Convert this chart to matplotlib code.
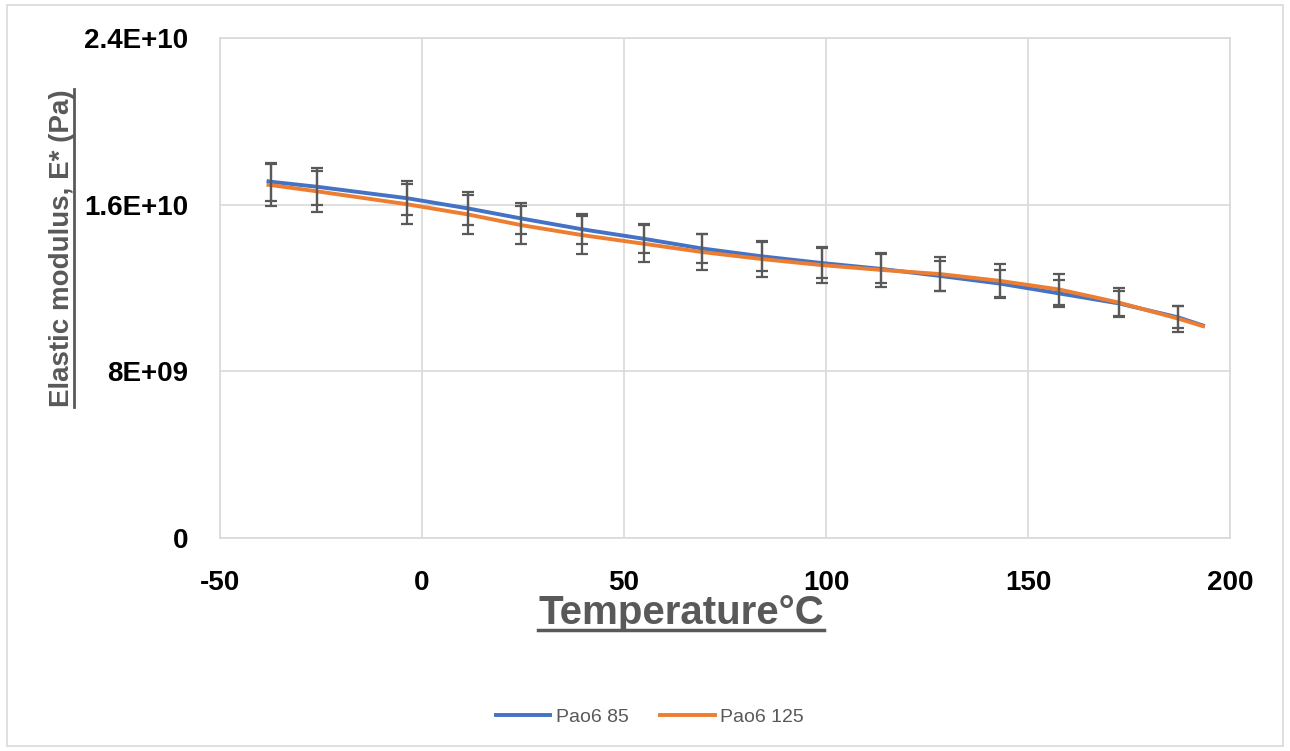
import numpy as np
import matplotlib.pyplot as plt
from matplotlib.lines import Line2D
from matplotlib.patches import Rectangle

# data
temp_bars = [-37.4, -26.0, -3.7, 11.4, 24.5, 39.6, 55.0, 69.2, 84.1, 98.9,
             113.5, 128.2, 143.1, 157.7, 172.5, 187.2]
pao85 = [17.10, 16.86, 16.31, 15.82, 15.34, 14.82, 14.36, 13.90, 13.52, 13.20,
         12.92, 12.58, 12.21, 11.74, 11.26, 10.59]
pao85_err = [0.92, 0.88, 0.82, 0.78, 0.74, 0.71, 0.70, 0.69, 0.69, 0.70,
             0.70, 0.70, 0.66, 0.64, 0.61, 0.53]
pao125 = [16.94, 16.64, 16.02, 15.53, 15.02, 14.54, 14.12, 13.73, 13.39, 13.10,
          12.87, 12.67, 12.34, 11.93, 11.30, 10.53]
pao125_err = [1.02, 0.99, 0.97, 0.95, 0.93, 0.90, 0.89, 0.86, 0.86, 0.85,
              0.82, 0.80, 0.81, 0.74, 0.70, 0.62]
# curve ends (no error bar there)
t_start, t_end = -38.0, 193.3
pao85_ends = [17.12, 10.20]
pao125_ends = [16.95, 10.17]

yticks = [0, 8e9, 1.6e10, 2.4e10]
ytick_labels = ['0', '8E+09', '1.6E+10', '2.4E+10']
xticks = [-50, 0, 50, 100, 150, 200]

blue = '#4472C4'
orange = '#ED7D31'
grey = '#595959'
plt.rcParams['font.family'] = ['Liberation Sans', 'DejaVu Sans']

scale = 1e9
x_line = np.array([t_start] + temp_bars + [t_end])
y85 = np.array([pao85_ends[0]] + pao85 + [pao85_ends[1]]) * scale
y125 = np.array([pao125_ends[0]] + pao125 + [pao125_ends[1]]) * scale

fig = plt.figure(figsize=(12.9, 7.51), dpi=100)
ax = fig.add_axes([220/1290, 1-538/751, 1010/1290, 500/751])

ax.plot(x_line, y85, color=blue, lw=2.8, label='Pao6 85', zorder=3)
ax.plot(x_line, y125, color=orange, lw=2.8, label='Pao6 125', zorder=3)
ax.errorbar(temp_bars, np.array(pao85)*scale, yerr=np.array(pao85_err)*scale,
            fmt='none', ecolor=grey, elinewidth=1.6, capsize=4.5, capthick=1.6, zorder=4)
ax.errorbar(temp_bars, np.array(pao125)*scale, yerr=np.array(pao125_err)*scale,
            fmt='none', ecolor=grey, elinewidth=1.6, capsize=4.5, capthick=1.6, zorder=4)

ax.set_xlim(-50, 200)
ax.set_ylim(0, 2.4e10)
ax.set_xticks(xticks)
ax.set_xticklabels([str(t) for t in xticks], fontsize=20, fontweight='bold')
ax.set_yticks(yticks)
ax.set_yticklabels(ytick_labels, fontsize=20, fontweight='bold')
ax.tick_params(axis='y', length=0, pad=23)
ax.tick_params(axis='x', length=0, pad=23)
ax.grid(color='#d9d9d9', lw=1.2)
ax.set_axisbelow(True)
for s in ax.spines.values():
    s.set_color('#d9d9d9')
    s.set_linewidth(1.2)

ylab = fig.text(62/1290, 1-248/751, 'Elastic modulus, E* (Pa)', rotation=90,
                ha='center', va='center', fontsize=20, fontweight='bold', color=grey)
xlab = fig.text(681/1290, 1-613/751, 'Temperature°C', ha='center', va='center',
                fontsize=29, fontweight='bold', color=grey)

leg = fig.legend(loc='center', bbox_to_anchor=(650/1290, 1-717/751), ncol=2,
                 frameon=False, fontsize=14, handlelength=2.8, columnspacing=1.6,
                 handletextpad=0.3)
for t in leg.get_texts():
    t.set_color(grey)

# figure border
fig.patches.append(Rectangle((7/1290, 5/751), 1276/1290, 741/751, transform=fig.transFigure,
                             fill=False, edgecolor='#d9d9d9', lw=1.2))

# underline the axis titles
fig.canvas.draw()
r = fig.canvas.get_renderer()
inv = fig.transFigure.inverted()
bb = xlab.get_window_extent(r)
(x0, y0), (x1, y1) = inv.transform([(bb.x0, bb.y0 + 2), (bb.x1, bb.y0 + 2)])
fig.lines.append(Line2D([x0, x1], [y0, y1], transform=fig.transFigure, color=grey, lw=2.5))
bb = ylab.get_window_extent(r)
(x0, y0), (x1, y1) = inv.transform([(bb.x1 - 1, bb.y0), (bb.x1 - 1, bb.y1)])
fig.lines.append(Line2D([x0, x1], [y0, y1], transform=fig.transFigure, color=grey, lw=2))

fig.savefig('out.png', dpi=100)
